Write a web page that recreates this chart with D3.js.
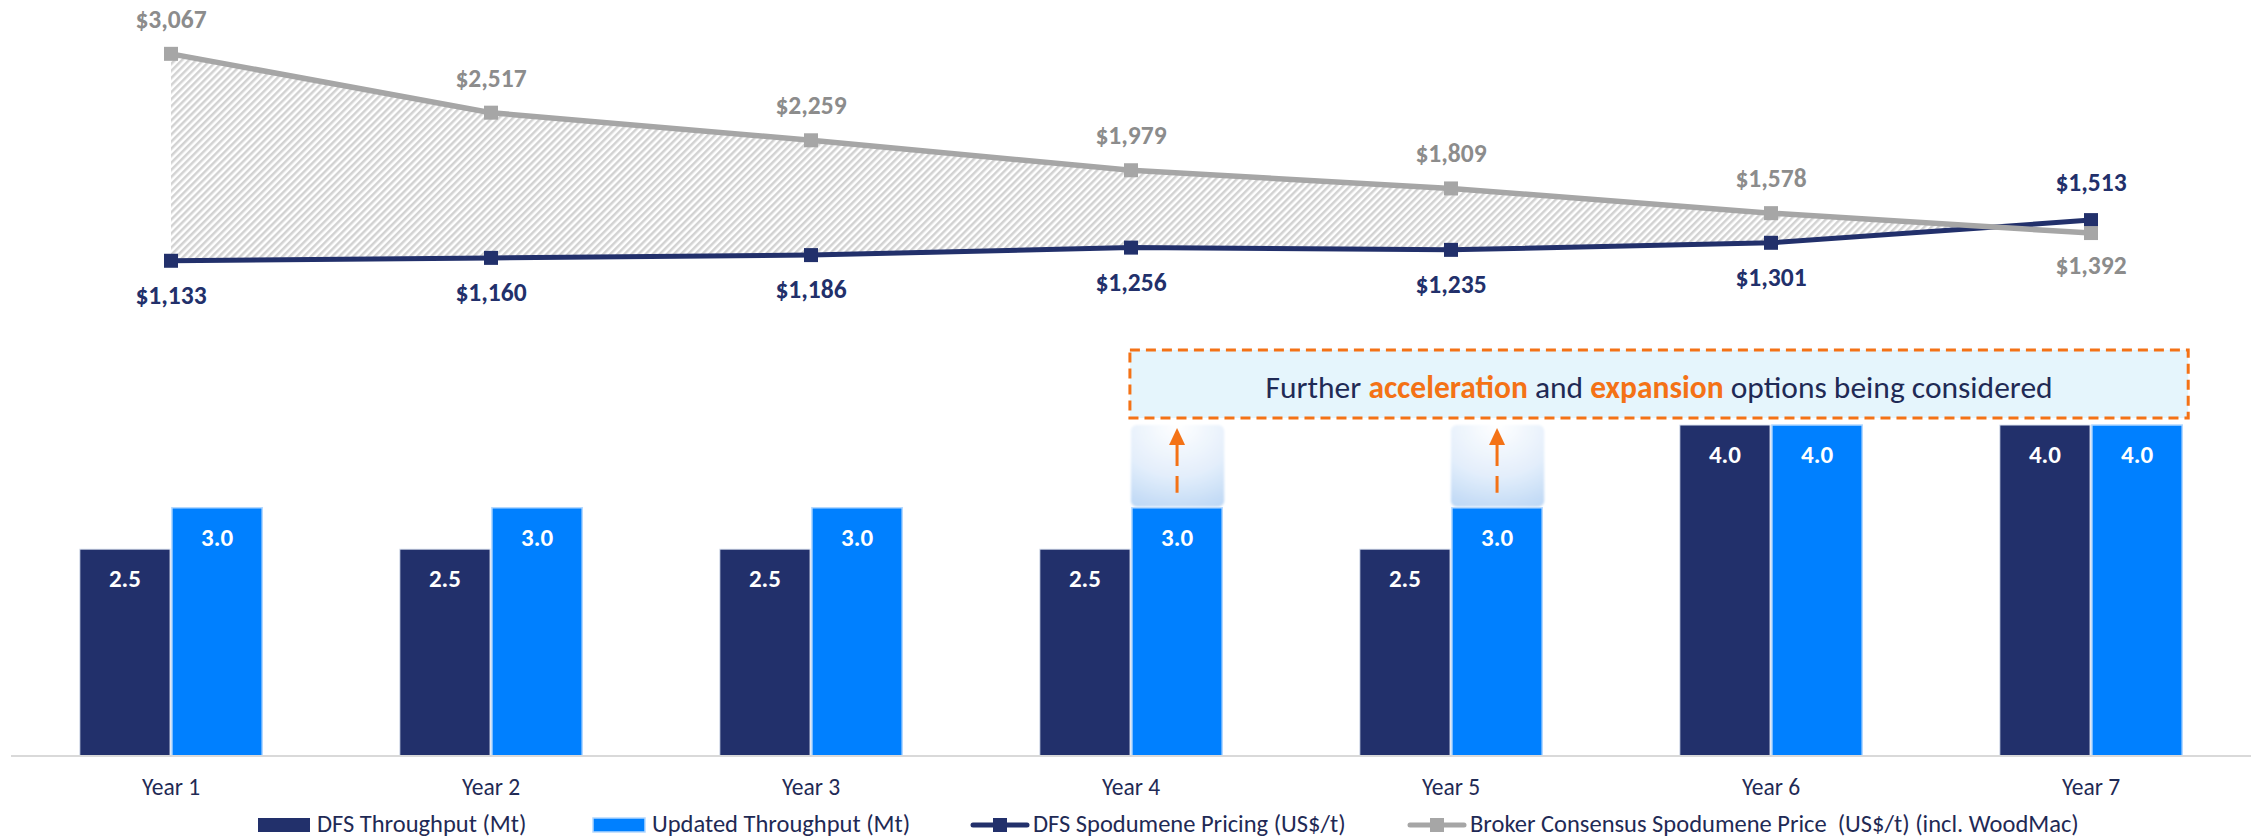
<!DOCTYPE html>
<html>
<head>
<meta charset="utf-8">
<script src="https://cdn.jsdelivr.net/npm/d3@7"></script>
<style>
  html, body { margin: 0; padding: 0; background: #ffffff; }
  svg { display: block; font-family: Carlito, Lato, "Open Sans", sans-serif; }
</style>
</head>
<body>
<svg id="chart" width="2252" height="838"></svg>
<script>
// ---- Data ----
const years = ["Year 1", "Year 2", "Year 3", "Year 4", "Year 5", "Year 6", "Year 7"];
const dfsThroughput = [2.5, 2.5, 2.5, 2.5, 2.5, 4.0, 4.0];        // Mt
const updatedThroughput = [3.0, 3.0, 3.0, 3.0, 3.0, 4.0, 4.0];    // Mt
const dfsPrice = [1133, 1160, 1186, 1256, 1235, 1301, 1513];      // US$/t
const brokerPrice = [3067, 2517, 2259, 1979, 1809, 1578, 1392];   // US$/t
const upsideYears = ["Year 4", "Year 5"];
const upsideTarget = 4.0;
const seriesNames = ["DFS Throughput (Mt)", "Updated Throughput (Mt)",
  "DFS Spodumene Pricing (US$/t)", "Broker Consensus Spodumene Price  (US$/t) (incl. WoodMac)"];

// ---- Styles ----
const NAVY = "#22306b";
const BLUE = "#0080ff";
const GREY_LINE = "#a6a6a6";
const GREY_TEXT = "#8c8c8c";
const ORANGE = "#f47216";
const TEXT = "#1f2a55";

const svg = d3.select("#chart");
const defs = svg.append("defs");

// diagonal hatch for the price gap
const hatch = defs.append("pattern")
  .attr("id", "hatch").attr("patternUnits", "userSpaceOnUse")
  .attr("width", 5).attr("height", 5)
  .attr("patternTransform", "rotate(45)");
hatch.append("rect").attr("width", 5).attr("height", 5).attr("fill", "#ffffff");
hatch.append("rect").attr("width", 2.5).attr("height", 5).attr("fill", "#d2d2d2");

// soft glow for the upside boxes
const glow = defs.append("radialGradient").attr("id", "glow")
  .attr("cx", "50%").attr("cy", "0%").attr("r", "115%");
glow.append("stop").attr("offset", "0%").attr("stop-color", "#ffffff");
glow.append("stop").attr("offset", "55%").attr("stop-color", "#e3eefb");
glow.append("stop").attr("offset", "100%").attr("stop-color", "#b9d5f4");
defs.append("filter").attr("id", "soft")
  .append("feGaussianBlur").attr("stdDeviation", 0.8);

// ---- Scales ----
const x = d3.scaleBand().domain(years).range([11, 2251])
  .paddingInner(0.43).paddingOuter(0.215);
const xSub = d3.scaleBand().domain(["dfs", "upd"]).range([0, x.bandwidth()]).paddingInner(0.02);
const yBar = d3.scaleLinear().domain([0, 4]).range([756, 425]);
const yPrice = d3.scaleLinear().domain([0, 3500]).range([382, 7.5]);
const cx = d => x(d) + x.bandwidth() / 2;

// ---- Bars ----
const barData = years.map((y, i) => ({ year: y, dfs: dfsThroughput[i], upd: updatedThroughput[i] }));
const groups = svg.append("g").selectAll("g").data(barData).join("g")
  .attr("transform", d => `translate(${x(d.year)},0)`);

groups.append("rect")
  .attr("x", xSub("dfs")).attr("width", xSub.bandwidth())
  .attr("y", d => yBar(d.dfs)).attr("height", d => yBar(0) - yBar(d.dfs))
  .attr("fill", NAVY).attr("stroke", "#dfe6f2").attr("stroke-width", 1);
groups.append("rect")
  .attr("x", xSub("upd")).attr("width", xSub.bandwidth())
  .attr("y", d => yBar(d.upd)).attr("height", d => yBar(0) - yBar(d.upd))
  .attr("fill", BLUE).attr("stroke", "#b3d8ff").attr("stroke-width", 1.5);

groups.append("text")
  .attr("x", xSub("dfs") + xSub.bandwidth() / 2).attr("y", d => yBar(d.dfs) + 38)
  .attr("text-anchor", "middle").attr("fill", "#ffffff")
  .attr("font-weight", 700).attr("font-size", 25)
  .text(d => d.dfs.toFixed(1));
groups.append("text")
  .attr("x", xSub("upd") + xSub.bandwidth() / 2).attr("y", d => yBar(d.upd) + 38)
  .attr("text-anchor", "middle").attr("fill", "#ffffff")
  .attr("font-weight", 700).attr("font-size", 25)
  .text(d => d.upd.toFixed(1));

// ---- Upside boxes with arrows ----
const upside = svg.append("g").selectAll("g")
  .data(barData.filter(d => upsideYears.includes(d.year))).join("g")
  .attr("transform", d => `translate(${x(d.year) + xSub("upd")},0)`);
upside.append("rect")
  .attr("x", -1).attr("width", xSub.bandwidth() + 3)
  .attr("y", yBar(upsideTarget)).attr("height", d => yBar(d.upd) - yBar(upsideTarget) - 1)
  .attr("rx", 6).attr("fill", "url(#glow)").attr("filter", "url(#soft)");
const ax = xSub.bandwidth() / 2;
upside.append("line")
  .attr("x1", ax).attr("x2", ax)
  .attr("y1", yBar(upsideTarget) + 19).attr("y2", d => yBar(d.upd) - 15)
  .attr("stroke", ORANGE).attr("stroke-width", 3).attr("stroke-dasharray", "22,10");
upside.append("path")
  .attr("d", `M${ax},${yBar(upsideTarget) + 3} L${ax + 8},${yBar(upsideTarget) + 20} L${ax - 8},${yBar(upsideTarget) + 20} Z`)
  .attr("fill", ORANGE);

// ---- Annotation box ----
const boxLeft = x(upsideYears[0]) + xSub("upd") - 2;
const boxRight = x(years[years.length - 1]) + x.bandwidth() + 6;
const boxBottom = yBar(upsideTarget) - 7;
const boxTop = boxBottom - 68;
svg.append("rect")
  .attr("x", boxLeft).attr("y", boxTop)
  .attr("width", boxRight - boxLeft).attr("height", boxBottom - boxTop)
  .attr("fill", "#e5f5fc").attr("stroke", ORANGE).attr("stroke-width", 3)
  .attr("stroke-dasharray", "10,6");
const note = svg.append("text")
  .attr("x", (boxLeft + boxRight) / 2).attr("y", boxTop + 48)
  .attr("text-anchor", "middle").attr("font-size", 31.5).attr("fill", TEXT);
note.append("tspan").text("Further ");
note.append("tspan").attr("fill", ORANGE).attr("font-weight", 700).text("acceleration");
note.append("tspan").text(" and ");
note.append("tspan").attr("fill", ORANGE).attr("font-weight", 700).text("expansion");
note.append("tspan").text(" options being considered");

// ---- X axis ----
const axis = svg.append("g").attr("transform", `translate(0,${yBar(0)})`)
  .call(d3.axisBottom(x).tickSize(0).tickPadding(0));
axis.select(".domain").attr("stroke", "#d9d9d9").attr("stroke-width", 2)
  .attr("d", `M${x.range()[0]},0H${x.range()[1]}`);
axis.selectAll(".tick text")
  .attr("y", 39).attr("dy", 0)
  .attr("font-family", "Carlito, Lato, sans-serif")
  .attr("font-size", 23.5).attr("fill", TEXT);

// ---- Price lines ----
const priceData = years.map((y, i) => ({ year: y, dfs: dfsPrice[i], broker: brokerPrice[i] }));

svg.append("clipPath").attr("id", "belowBroker")
  .append("path")
  .attr("d", d3.area().x(d => cx(d.year)).y0(yPrice(0)).y1(d => yPrice(d.broker))(priceData));

svg.append("path")
  .attr("clip-path", "url(#belowBroker)")
  .attr("d", d3.area().x(d => cx(d.year)).y0(d => yPrice(d.dfs)).y1(d => yPrice(d.broker))(priceData))
  .attr("fill", "url(#hatch)");

const line = key => d3.line().x(d => cx(d.year)).y(d => yPrice(d[key]));

svg.append("path").attr("d", line("dfs")(priceData))
  .attr("fill", "none").attr("stroke", NAVY).attr("stroke-width", 5);
svg.append("g").selectAll("rect").data(priceData).join("rect")
  .attr("x", d => cx(d.year) - 7).attr("y", d => yPrice(d.dfs) - 7)
  .attr("width", 14).attr("height", 14).attr("fill", NAVY);

svg.append("path").attr("d", line("broker")(priceData))
  .attr("fill", "none").attr("stroke", GREY_LINE).attr("stroke-width", 5.5);
svg.append("g").selectAll("rect").data(priceData).join("rect")
  .attr("x", d => cx(d.year) - 7).attr("y", d => yPrice(d.broker) - 7)
  .attr("width", 14).attr("height", 14).attr("fill", GREY_LINE);

const fmt = v => "$" + d3.format(",")(v);
// labels sit on the outer side of each pair of points
svg.append("g").selectAll("text").data(priceData).join("text")
  .attr("x", d => cx(d.year))
  .attr("y", d => d.dfs >= d.broker ? yPrice(d.dfs) - 29 : yPrice(d.dfs) + 43)
  .attr("text-anchor", "middle").attr("font-weight", 700).attr("font-size", 25.5)
  .attr("fill", NAVY).text(d => fmt(d.dfs));
svg.append("g").selectAll("text").data(priceData).join("text")
  .attr("x", d => cx(d.year))
  .attr("y", d => d.broker > d.dfs ? yPrice(d.broker) - 26 : yPrice(d.broker) + 41)
  .attr("text-anchor", "middle").attr("font-weight", 700).attr("font-size", 25.5)
  .attr("fill", GREY_TEXT).text(d => fmt(d.broker));

// ---- Legend ----
const legendY = 832;
const legendItems = [
  { name: seriesNames[0], kind: "bar", color: NAVY, x: 258 },
  { name: seriesNames[1], kind: "bar", color: BLUE, x: 593 },
  { name: seriesNames[2], kind: "line", color: NAVY, x: 973 },
  { name: seriesNames[3], kind: "line", color: GREY_LINE, x: 1410 }
];
const leg = svg.append("g").selectAll("g").data(legendItems).join("g")
  .attr("transform", d => `translate(${d.x},${legendY})`);
leg.filter(d => d.kind === "bar").append("rect")
  .attr("x", 0).attr("y", -14).attr("width", 52).attr("height", 14)
  .attr("fill", d => d.color)
  .attr("stroke", d => d.color === BLUE ? "#b3d8ff" : "none").attr("stroke-width", 1.5);
leg.filter(d => d.kind === "line").append("line")
  .attr("x1", 0).attr("x2", 54).attr("y1", -7).attr("y2", -7)
  .attr("stroke", d => d.color).attr("stroke-width", 5).attr("stroke-linecap", "round");
leg.filter(d => d.kind === "line").append("rect")
  .attr("x", 20).attr("y", -14).attr("width", 14).attr("height", 14)
  .attr("fill", d => d.color);
leg.append("text")
  .attr("x", d => d.kind === "bar" ? 59 : 60).attr("y", 0)
  .attr("font-size", 24.5).attr("fill", TEXT)
  .style("white-space", "pre")
  .text(d => d.name);
</script>
</body>
</html>
